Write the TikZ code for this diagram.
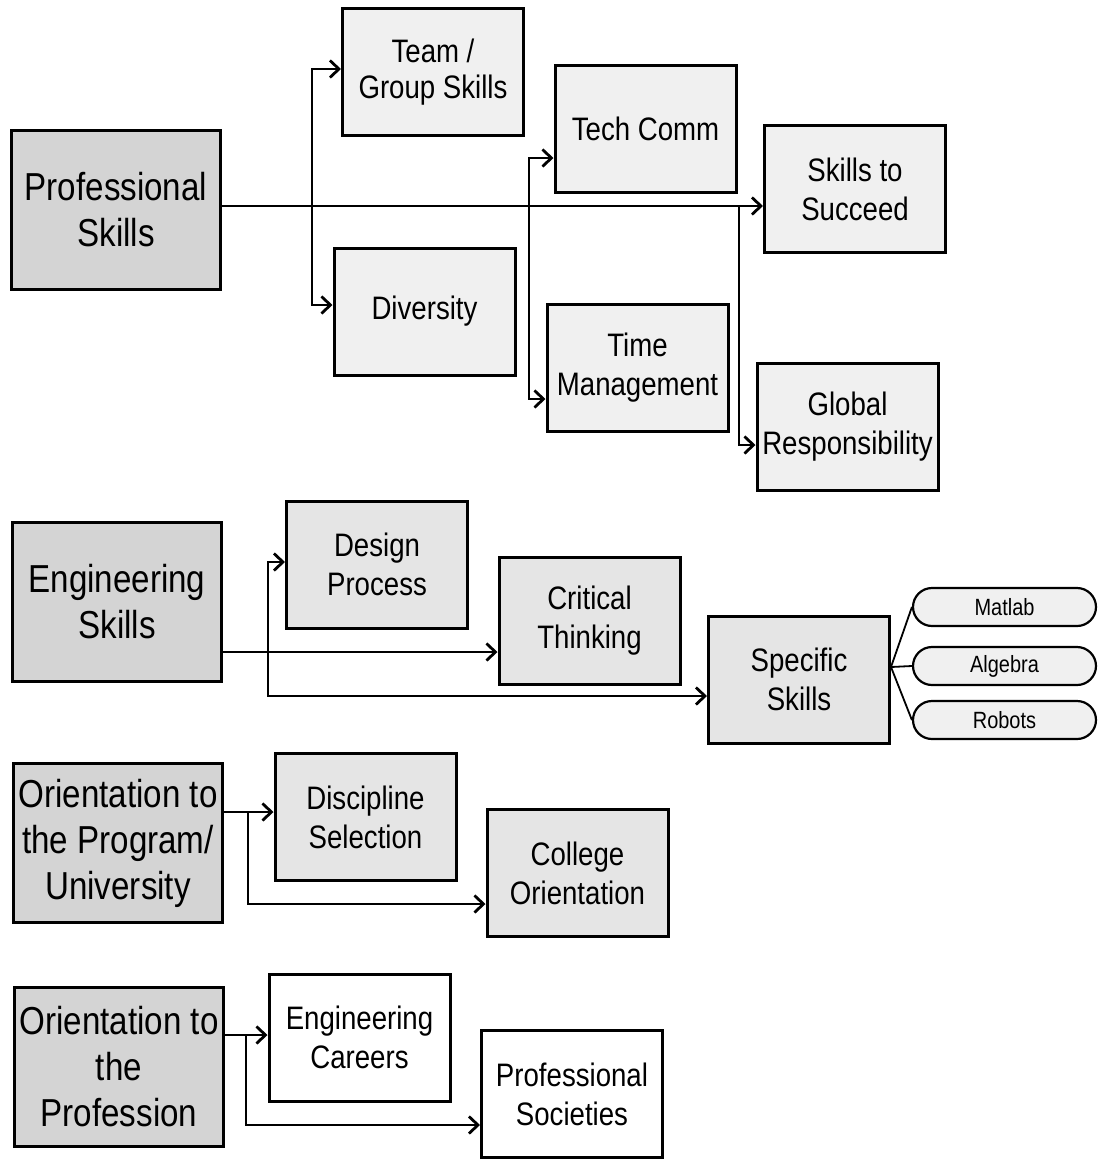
\documentclass[tikz,border=0pt]{standalone}
\usepackage{fontspec}
\setmainfont[FakeStretch=0.85]{Liberation Sans}
\usetikzlibrary{arrows.meta,shapes.misc}
\definecolor{darkfill}{HTML}{D4D4D4}
\definecolor{lightfill}{HTML}{F0F0F0}
\definecolor{midfill}{HTML}{E5E5E5}
\begin{document}
\begin{tikzpicture}[x=1pt,y=-1pt,
  >={Straight Barb[length=9pt,width=17pt]},
  mainbox/.style={draw=black, line width=3pt, fill=darkfill, minimum width=209pt, minimum height=159pt, inner sep=0pt, align=center, font=\fontsize{39}{46}\selectfont},
  subbox/.style={draw=black, line width=3pt, minimum width=181pt, minimum height=127pt, inner sep=0pt, align=center, font=\fontsize{32.5}{39}\selectfont},
  topbox/.style={subbox, fill=lightfill},
  midbox/.style={subbox, fill=midfill},
  whitebox/.style={subbox, fill=white},
  pill/.style={draw=black, line width=2.2pt, fill=lightfill, rounded rectangle, minimum width=183pt, minimum height=38pt, inner sep=0pt, font=\fontsize{23.5}{27}\selectfont},
  arr/.style={->, line width=2.8pt},
  thin/.style={line width=1.8pt}
]
\useasboundingbox (0,0) rectangle (1098,1160);

% --- Professional skills group
\node[mainbox] (ps) at (116,210) {Professional\\Skills};
\node[topbox] (team) at (433,72) {Team /\\[-3pt]Group Skills};
\node[topbox] (tech) at (645.5,128.5) {Tech Comm};
\node[topbox] (succ) at (855,189) {Skills to\\Succeed};
\node[topbox] (div) at (424.5,311.5) {Diversity};
\node[topbox] (time) at (637.5,367.5) {Time\\Management};
\node[topbox] (glob) at (847.5,426.5) {Global\\Responsibility};

\coordinate (b1) at (312,206);
\coordinate (b2) at (529,206);
\coordinate (b3) at (739,206);
\draw[arr] (ps.east |- b1) -- (succ.west |- b1);
\draw[arr] (b1) |- ([yshift=3pt]team.west);
\draw[arr] (b1) |- ([yshift=6.5pt]div.west);
\draw[arr] (b2) |- ([yshift=-29.5pt]tech.west);
\draw[arr] (b2) |- ([yshift=-31.5pt]time.west);
\draw[arr] (b3) |- ([yshift=-18.5pt]glob.west);

% --- Engineering skills group
\node[mainbox] (es) at (117,602) {Engineering\\Skills};
\node[midbox] (des) at (377,564.5) {Design\\Process};
\node[midbox] (crit) at (589.5,621) {Critical\\Thinking};
\node[midbox] (spec) at (799,679.5) {Specific\\Skills};
\node[pill] (mat) at (1004.5,607) {Matlab};
\node[pill] (alg) at (1004.5,666) {Algebra};
\node[pill] (rob) at (1004.5,720) {Robots};

\coordinate (e1) at (268,652);
\draw[arr] ([yshift=-50pt]es.east) -- ([yshift=-31pt]crit.west);
\draw[arr] (e1) |- ([yshift=2.5pt]des.west);
\draw[arr] (e1) |- ([yshift=-16.5pt]spec.west);
\coordinate (sp) at ([yshift=12.5pt]spec.east);
\draw[thin] (sp) -- (mat.west);
\draw[thin] (sp) -- (alg.west);
\draw[thin] (sp) -- (rob.west);

% --- Orientation to the program
\node[mainbox] (op) at (118,843) {Orientation to\\the Program/\\University};
\node[midbox] (disc) at (365.5,817) {Discipline\\Selection};
\node[midbox] (coll) at (577.5,873) {College\\Orientation};
\coordinate (o1) at (248,812);
\draw[arr] ([yshift=31pt]op.east) -- ([yshift=5pt]disc.west);
\draw[arr] (o1) |- ([yshift=-31pt]coll.west);

% --- Orientation to the profession
\node[mainbox] (opr) at (119,1067) {Orientation to\\the\\Profession};
\node[whitebox] (car) at (359.5,1037.5) {Engineering\\Careers};
\node[whitebox] (soc) at (572,1094) {Professional\\Societies};
\coordinate (p1) at (246,1035);
\draw[arr] ([yshift=32pt]opr.east) -- ([yshift=2.5pt]car.west);
\draw[arr] (p1) |- ([yshift=-31pt]soc.west);
\end{tikzpicture}
\end{document}
